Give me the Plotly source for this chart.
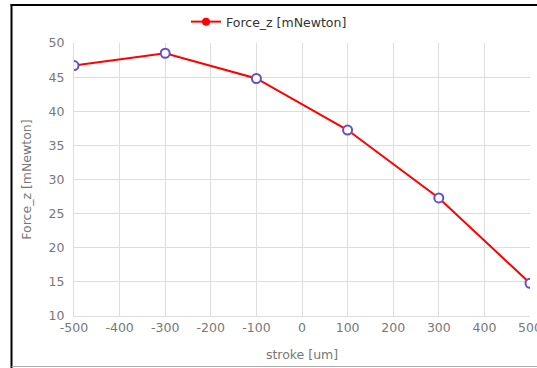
import plotly.graph_objects as go

stroke = [-500, -300, -100, 100, 300, 500]
force_z = [46.7, 48.5, 44.8, 37.25, 27.3, 14.8]
x_ticks = [-500, -400, -300, -200, -100, 0, 100, 200, 300, 400, 500]
x_tick_labels = ["-500", "-400", "-300", "-200", "-100", "0", "100", "200", "300", "400", "500"]
series_name = "Force_z [mNewton]"
x_title = "stroke [um]"
y_title = "Force_z [mNewton]"

W, H = 537, 368
L, R, T, B = 74, 7, 43, 52
pw, ph = W - L - R, H - T - B

def px(x):
    return (x - L) / pw

def py(y):
    return (H - B - y) / ph

fig = go.Figure()
fig.add_trace(go.Scatter(
    x=stroke, y=force_z, name=series_name, mode="lines+markers",
    line=dict(color="#ff0000", width=2),
    marker=dict(symbol="circle", size=9, color="white",
                line=dict(color="#6a4cc8", width=2)),
    showlegend=False,
))
# legend proxy (red filled marker)
fig.add_trace(go.Scatter(
    x=[None], y=[None], name=series_name, mode="lines+markers",
    line=dict(color="#ff0000", width=2),
    marker=dict(symbol="circle", size=8, color="#ff0000"),
))

font = "DejaVu Sans, Verdana, sans-serif"
fig.update_layout(
    width=W, height=H,
    margin=dict(l=L, r=R, t=T, b=B, pad=0, autoexpand=False),
    paper_bgcolor="white", plot_bgcolor="white",
    font=dict(family=font, size=12, color="#666666"),
    legend=dict(orientation="h", x=px(269), xanchor="center",
                y=py(22), yanchor="middle",
                font=dict(size=12.5, color="#333333"),
                itemwidth=30, bgcolor="rgba(0,0,0,0)"),
    xaxis=dict(range=[-500, 500], tickvals=x_ticks, ticktext=x_tick_labels,
               showgrid=True, gridcolor="#dddddd", gridwidth=1,
               zeroline=False, showline=True, linecolor="#dddddd",
               ticks="", ticklabeloverflow="allow",
               tickfont=dict(size=12.5, color="#777777"),
               title=dict(text=x_title, font=dict(size=12.5, color="#777777"), standoff=16)),
    yaxis=dict(range=[10, 50], dtick=5, tick0=10,
               showgrid=True, gridcolor="#dddddd", gridwidth=1,
               zeroline=False, showline=True, linecolor="#dddddd",
               ticks="outside", ticklen=6, tickcolor="rgba(0,0,0,0)",
               tickfont=dict(size=12.5, color="#777777"),
               title=dict(text=y_title, font=dict(size=12.5, color="#777777"), standoff=14)),
    shapes=[
        dict(type="line", xref="paper", yref="paper", x0=px(11.5), x1=px(11.5),
             y0=py(368), y1=py(4.5), line=dict(color="black", width=2)),
        dict(type="line", xref="paper", yref="paper", x0=px(10.5), x1=px(540),
             y0=py(5), y1=py(5), line=dict(color="black", width=2)),
        dict(type="line", xref="paper", yref="paper", x0=px(11.5), x1=px(540),
             y0=py(366.5), y1=py(366.5), line=dict(color="#aaaaaa", width=1)),
    ],
)
fig.write_html("out.html", config={"displayModeBar": False},
               post_script="document.body.style.margin='0px';document.body.style.padding='0px';")
